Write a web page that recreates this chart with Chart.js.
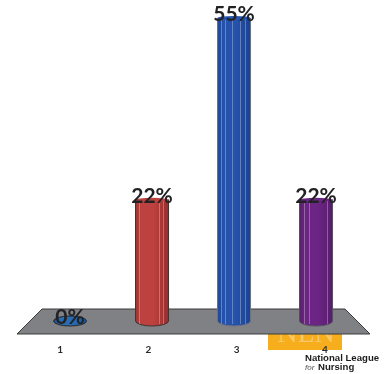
<!DOCTYPE html>
<html>
<head>
<meta charset="utf-8">
<style>
html,body{margin:0;padding:0;background:#fff;}
#wrap{width:388px;height:374px;position:relative;}
</style>
<script src="https://cdn.jsdelivr.net/npm/chart.js@4"></script>
</head>
<body>
<div id="wrap"><canvas id="c" width="388" height="374"></canvas></div>
<script>
const categories = ['1', '2', '3', '4'];
const responsePercent = [0, 22, 55, 22];
const barColors = [
  ['#164a86', '#2a6cb0', '#1a5596'],
  ['#a33432', '#bd413e', '#962e2d'],
  ['#1f479c', '#2552ab', '#1c4290'],
  ['#58206c', '#6c2584', '#561d6a']
];
const edgeColors = ['#26262a', '#3c3535', '#6f7380', '#55505f'];
const ribOffsets = [[], [-13, 7, 11], [-13, -9, -2, 6, 11], [-12, -7, 11]];

const ELLIPSE_RY = 5;

function cylinderFill(ctx, cx, hw, cols) {
  const g = ctx.createLinearGradient(cx - hw, 0, cx + hw, 0);
  g.addColorStop(0, cols[0]);
  g.addColorStop(0.18, cols[1]);
  g.addColorStop(0.55, cols[1]);
  g.addColorStop(1, cols[2]);
  return g;
}

const sceneryPlugin = {
  id: 'scenery',
  beforeDatasetsDraw(chart) {
    const { ctx, chartArea: a } = chart;
    const bottom = a.bottom + 13, top = a.bottom - 12;
    // league logo block, partly hidden by the floor
    ctx.save();
    ctx.fillStyle = '#f6ae1c';
    ctx.fillRect(a.left + 252, bottom - 4, 74, 20);
    ctx.fillStyle = '#f9c868';
    ctx.font = '28px "Liberation Serif"';
    ctx.textAlign = 'center';
    ctx.textBaseline = 'alphabetic';
    ctx.fillText('NLN', a.left + 290, bottom + 8);
    // floor plane
    ctx.beginPath();
    ctx.moveTo(a.left + 1, bottom);
    ctx.lineTo(a.left + 26, top);
    ctx.lineTo(a.right - 24, top);
    ctx.lineTo(a.right + 1, bottom);
    ctx.closePath();
    ctx.fillStyle = '#808184';
    ctx.fill();
    ctx.strokeStyle = '#3a3a3c';
    ctx.lineWidth = 1;
    ctx.stroke();
    // logo caption
    ctx.fillStyle = '#1c1c1c';
    ctx.textAlign = 'left';
    ctx.font = 'bold 9.6px "Liberation Sans"';
    ctx.fillText('National League', a.left + 289, bottom + 27);
    ctx.font = 'italic 8px "Liberation Sans"';
    ctx.fillStyle = '#555';
    ctx.fillText('for', a.left + 289, bottom + 36);
    ctx.fillStyle = '#1c1c1c';
    ctx.font = 'bold 9.6px "Liberation Sans"';
    ctx.fillText('Nursing', a.left + 302, bottom + 36);
    // rounded feet of the cylinders
    chart.getDatasetMeta(0).data.forEach((bar, i) => {
      const hw = bar.width / 2;
      ctx.beginPath();
      ctx.ellipse(bar.x, bar.base, hw, ELLIPSE_RY, 0, 0, Math.PI * 2);
      ctx.fillStyle = cylinderFill(ctx, bar.x, hw, barColors[i]);
      ctx.fill();
      ctx.strokeStyle = edgeColors[i];
      ctx.stroke();
    });
    ctx.restore();
  },
  afterDatasetsDraw(chart) {
    const { ctx } = chart;
    const meta = chart.getDatasetMeta(0);
    ctx.save();
    meta.data.forEach((bar, i) => {
      const hw = bar.width / 2;
      if (responsePercent[i] > 0) {
        // side outlines and pale ribs
        ctx.strokeStyle = edgeColors[i];
        ctx.lineWidth = 1;
        ctx.beginPath();
        ctx.moveTo(bar.x - hw, bar.y);
        ctx.lineTo(bar.x - hw, bar.base);
        ctx.moveTo(bar.x + hw, bar.y);
        ctx.lineTo(bar.x + hw, bar.base);
        ctx.stroke();
        ctx.strokeStyle = 'rgba(255,255,255,0.3)';
        ribOffsets[i].forEach(dx => {
          ctx.beginPath();
          ctx.moveTo(bar.x + dx + 0.5, bar.y);
          ctx.lineTo(bar.x + dx + 0.5, bar.base + 3);
          ctx.stroke();
        });
        ctx.beginPath();
        ctx.ellipse(bar.x, bar.y, hw, 2, 0, 0, Math.PI * 2);
        ctx.fillStyle = barColors[i][1];
        ctx.fill();
      }
      // value label sitting on the cylinder top
      ctx.fillStyle = '#222225';
      ctx.font = 'bold 21px "Lato"';
      ctx.textAlign = 'center';
      ctx.textBaseline = 'alphabetic';
      ctx.fillText(responsePercent[i] + '%', bar.x, bar.y + 3);
    });
    ctx.restore();
  }
};

new Chart(document.getElementById('c'), {
  type: 'bar',
  data: {
    labels: categories,
    datasets: [{
      data: responsePercent.map((v, i) => ({ x: i + 1, y: v })),
      xAxisID: 'xBars',
      yAxisID: 'y',
      barThickness: 33,
      borderWidth: 0,
      backgroundColor: c => {
        const scale = c.chart.scales.xBars;
        const px = scale ? scale.getPixelForValue(c.dataIndex + 1) : NaN;
        if (!Number.isFinite(px)) return barColors[c.dataIndex][1];
        return cylinderFill(c.chart.ctx, px, 16.5, barColors[c.dataIndex]);
      }
    }]
  },
  options: {
    responsive: false,
    animation: false,
    parsing: { xAxisKey: 'x', yAxisKey: 'y' },
    layout: { padding: { top: 18, left: 16, right: 19, bottom: 0 } },
    plugins: { legend: { display: false }, tooltip: { enabled: false } },
    scales: {
      // bars stand closer together than the tick labels, as on a receding floor
      xBars: { type: 'linear', position: 'bottom', display: false, offset: false, min: 0.341, max: 4.646 },
      xTicks: {
        type: 'category',
        position: 'bottom',
        labels: categories,
        grid: { display: false },
        border: { display: false },
        afterFit: s => { s.height = 53; },
        ticks: {
          z: 1,
          color: '#2b2b2b',
          padding: 15,
          maxRotation: 0,
          font: { family: '"Lato"', size: 10, weight: 'bold' }
        }
      },
      y: { display: false, min: 0, max: 55 }
    }
  },
  plugins: [sceneryPlugin]
});
</script>
</body>
</html>
